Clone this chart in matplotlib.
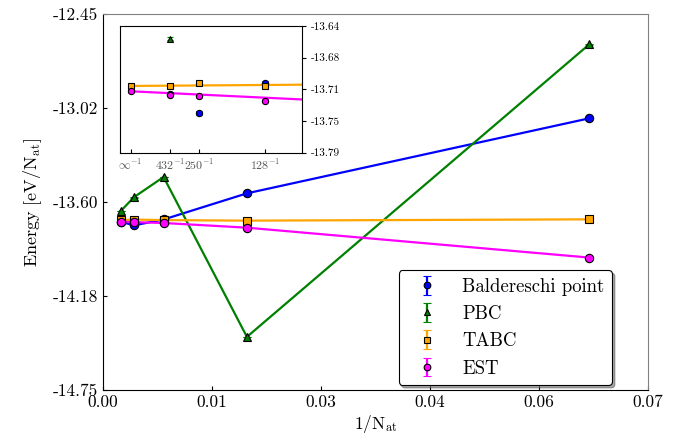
import matplotlib
matplotlib.use('Agg')
import matplotlib.pyplot as plt

plt.rcParams['font.family'] = ['cmr10', 'DejaVu Serif']
plt.rcParams['mathtext.fontset'] = 'cm'
plt.rcParams['axes.unicode_minus'] = False
plt.rcParams['axes.formatter.use_mathtext'] = True

# 1/N_at for N = 432, 250, 128, 54, 16
inv_n = [1 / 432, 1 / 250, 1 / 128, 1 / 54, 1 / 16]
# inset also shows the extrapolated infinite-size point (1/inf = 0)
inv_n_inf = [0.0, 1 / 432, 1 / 250, 1 / 128, 1 / 54, 1 / 16]

e_bald = [-13.720, -13.743, -13.707, -13.547, -13.088]
e_pbc = [-13.655, -13.571, -13.447, -14.425, -12.635]
e_tabc = [-13.711, -13.711, -13.7075, -13.7107, -13.714, -13.706]
e_est = [-13.7173, -13.7213, -13.7233, -13.7284, -13.757, -13.940]

err_bald = [0.002, 0.002, 0.002, 0.002, 0.002]
err_pbc = [0.002, 0.002, 0.002, 0.002, 0.002]
err_tabc = [0.002, 0.002, 0.002, 0.002, 0.002, 0.002]
err_est = [0.002, 0.002, 0.002, 0.002, 0.002, 0.002]

# straight fits drawn in the inset (values at 1/N = 0 and 0.01)
fit_x = [0.0, 0.01]
fit_tabc = [-13.7110, -13.7095]
fit_est = [-13.7173, -13.7270]

x_ticks = [0.0, 0.014, 0.028, 0.042, 0.056, 0.07]
x_labels = ['0.00', '0.01', '0.03', '0.04', '0.06', '0.07']
y_ticks = [-14.75, -14.175, -13.60, -13.025, -12.45]
y_labels = ['-14.75', '-14.18', '-13.60', '-13.02', '-12.45']

in_x_ticks = [0.0, 1 / 432, 1 / 250, 1 / 128]
in_x_labels = [r'$\infty^{-1}$', r'$432^{-1}$', r'$250^{-1}$', r'$128^{-1}$']
in_y_ticks = [-13.79, -13.7525, -13.715, -13.6775, -13.64]
in_y_labels = ['-13.79', '-13.75', '-13.71', '-13.68', '-13.64']

series = [
    ('Baldereschi point', inv_n, e_bald, err_bald, 'blue', 'o'),
    ('PBC', inv_n, e_pbc, err_pbc, 'green', '^'),
    ('TABC', inv_n, e_tabc[1:], err_tabc[1:], 'orange', 's'),
    ('EST', inv_n, e_est[1:], err_est[1:], 'magenta', 'o'),
]

fig = plt.figure(figsize=(6.79, 4.40), dpi=100)
ax = fig.add_axes([0.1513, 0.1136, 0.8027, 0.8546])

for name, xs, ys, errs, col, mk in series:
    ax.plot(xs, ys, color=col, linewidth=1.6)
    ax.errorbar(xs, ys, yerr=errs, color=col, marker=mk, linestyle='none',
                markeredgecolor='black', markeredgewidth=0.8, capsize=3,
                elinewidth=1.6, markersize=6, label=name)

ax.set_xlim(0, 0.07)
ax.set_ylim(-14.75, -12.45)
ax.set_xticks(x_ticks)
ax.set_xticklabels(x_labels)
ax.set_yticks(y_ticks)
ax.set_yticklabels(y_labels)
ax.tick_params(direction='in', length=3, labelsize=12.5)
ax.spines['top'].set_color('gray')
ax.spines['right'].set_color('gray')
ax.set_xlabel(r'1/N$_{\rm at}$', fontsize=12.5, labelpad=2)
ax.set_ylabel(r'Energy [eV/N$_{\rm at}$]', fontsize=13, labelpad=6)

leg = ax.legend(loc='lower right', bbox_to_anchor=(0.9345, 0.013), borderaxespad=0,
                fontsize=13.5, shadow=True, fancybox=True, framealpha=1,
                edgecolor='black', handlelength=2.2, handletextpad=0.8,
                labelspacing=0.5, markerscale=0.8)
leg.get_frame().set_linewidth(0.8)

# inset
ins = fig.add_axes([0.1767, 0.653, 0.2685, 0.2879])
ins.plot(fit_x, fit_tabc, color='orange', linewidth=1.6)
ins.plot(fit_x, fit_est, color='magenta', linewidth=1.6)
in_style = dict(markeredgecolor='black', markeredgewidth=0.8, capsize=2,
                linestyle='none', markersize=4.5)
ins.errorbar(inv_n, e_bald, yerr=err_bald, color='blue', marker='o', **in_style)
ins.errorbar(inv_n, e_pbc, yerr=err_pbc, color='green', marker='^', **in_style)
ins.errorbar(inv_n_inf, e_tabc, yerr=err_tabc, color='orange', marker='s', **in_style)
ins.errorbar(inv_n_inf, e_est, yerr=err_est, color='magenta', marker='o', **in_style)
ins.set_xlim(-0.000625, 0.01)
ins.set_ylim(-13.79, -13.64)
ins.set_xticks(in_x_ticks)
ins.set_xticklabels(in_x_labels, color='#555555')
ins.set_yticks(in_y_ticks)
ins.set_yticklabels(in_y_labels)
ins.yaxis.tick_right()
ins.tick_params(axis='y', direction='out', length=3, labelsize=8)
ins.tick_params(axis='x', direction='in', length=3, labelsize=8.6, pad=3)

fig.savefig('out.png', dpi=100)
